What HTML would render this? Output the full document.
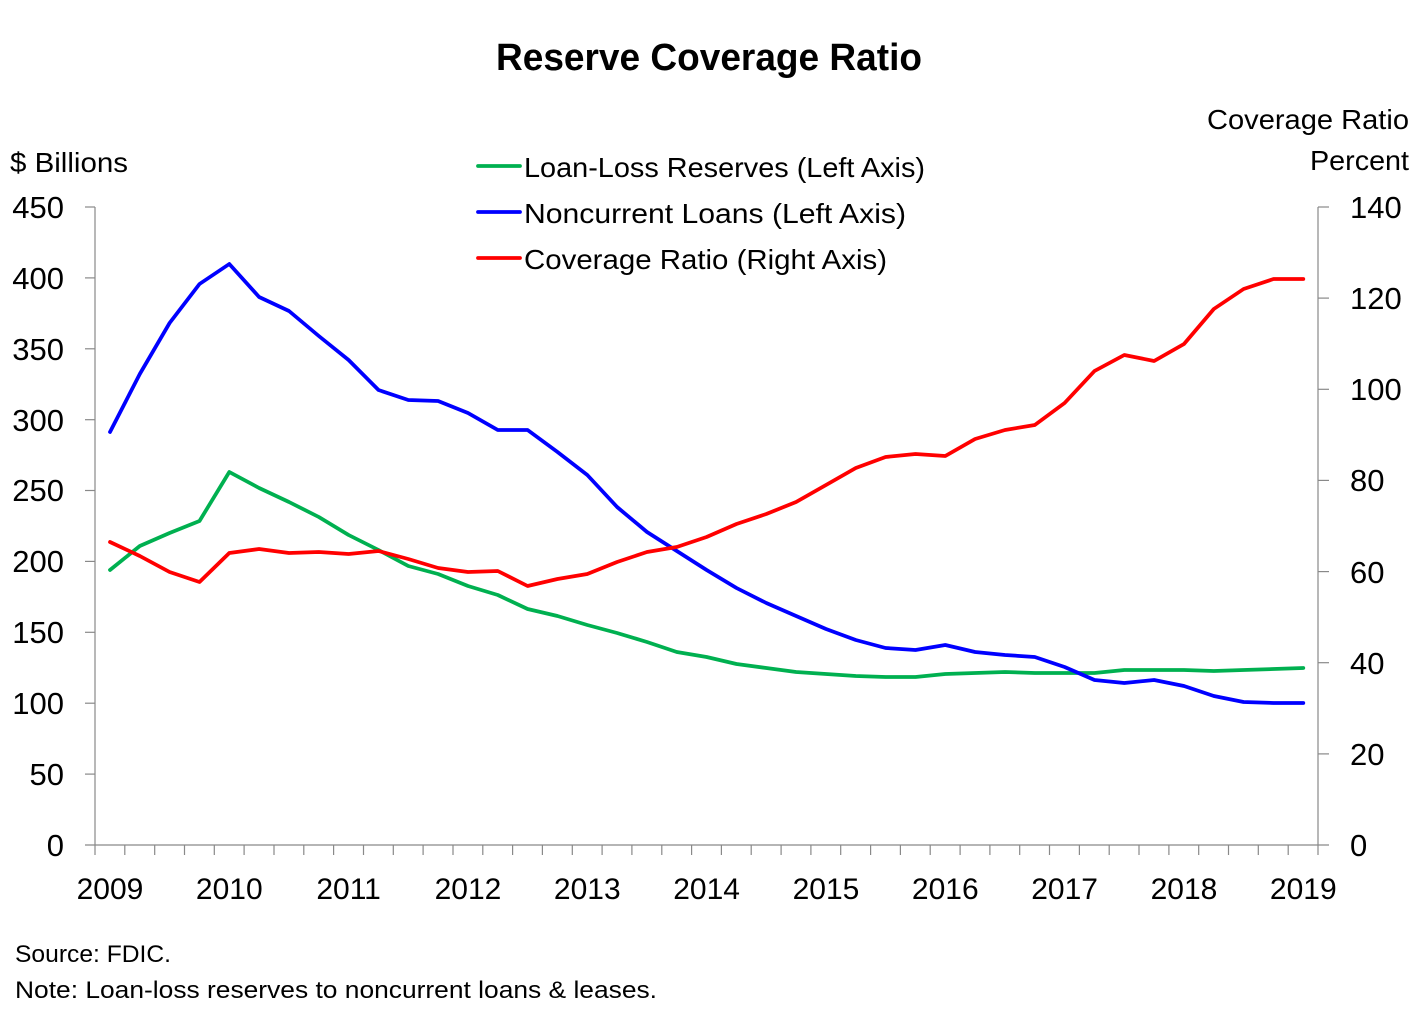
<!DOCTYPE html>
<html>
<head>
<meta charset="utf-8">
<style>
  html, body { margin: 0; padding: 0; background: #ffffff; }
  svg { display: block; }
  text { font-family: "Liberation Sans", "DejaVu Sans", sans-serif; fill: #000; }
</style>
</head>
<body>
<svg width="1420" height="1030" viewBox="0 0 1420 1030" xmlns="http://www.w3.org/2000/svg">
  <rect x="0" y="0" width="1420" height="1030" fill="#ffffff"/>

  <!-- Title -->
  <text x="496" y="70" font-size="38" font-weight="bold" textLength="426" lengthAdjust="spacingAndGlyphs">Reserve Coverage Ratio</text>

  <!-- Axis titles -->
  <text x="10" y="172" font-size="28" textLength="118" lengthAdjust="spacingAndGlyphs">$ Billions</text>
  <text x="1409" y="129" font-size="28" text-anchor="end" textLength="202" lengthAdjust="spacingAndGlyphs">Coverage Ratio</text>
  <text x="1409" y="170" font-size="28" text-anchor="end" textLength="99" lengthAdjust="spacingAndGlyphs">Percent</text>

  <!-- Legend -->
  <line x1="478" y1="166" x2="520" y2="166" stroke="#00B050" stroke-width="3.75" stroke-linecap="round"/>
  <text x="524" y="177" font-size="28" textLength="401" lengthAdjust="spacingAndGlyphs">Loan-Loss Reserves (Left Axis)</text>
  <line x1="478" y1="212" x2="520" y2="212" stroke="#0000FF" stroke-width="3.75" stroke-linecap="round"/>
  <text x="524" y="223" font-size="28" textLength="382" lengthAdjust="spacingAndGlyphs">Noncurrent Loans (Left Axis)</text>
  <line x1="478" y1="258" x2="520" y2="258" stroke="#FF0000" stroke-width="3.75" stroke-linecap="round"/>
  <text x="524" y="269" font-size="28" textLength="363" lengthAdjust="spacingAndGlyphs">Coverage Ratio (Right Axis)</text>

  <!-- Axes -->
  <g stroke="#898989" stroke-width="1.2" fill="none">
    <line x1="95" y1="207" x2="95" y2="845"/>
    <line x1="1318" y1="207" x2="1318" y2="845"/>
    <line x1="85" y1="845" x2="1329" y2="845"/>
    <!-- left ticks -->
    <line x1="85" y1="207" x2="95" y2="207"/>
    <line x1="85" y1="277.9" x2="95" y2="277.9"/>
    <line x1="85" y1="348.8" x2="95" y2="348.8"/>
    <line x1="85" y1="419.7" x2="95" y2="419.7"/>
    <line x1="85" y1="490.5" x2="95" y2="490.5"/>
    <line x1="85" y1="561.4" x2="95" y2="561.4"/>
    <line x1="85" y1="632.3" x2="95" y2="632.3"/>
    <line x1="85" y1="703.2" x2="95" y2="703.2"/>
    <line x1="85" y1="774.1" x2="95" y2="774.1"/>
    <!-- right ticks -->
    <line x1="1318" y1="207" x2="1329" y2="207"/>
    <line x1="1318" y1="298.1" x2="1329" y2="298.1"/>
    <line x1="1318" y1="389.3" x2="1329" y2="389.3"/>
    <line x1="1318" y1="480.4" x2="1329" y2="480.4"/>
    <line x1="1318" y1="571.6" x2="1329" y2="571.6"/>
    <line x1="1318" y1="662.7" x2="1329" y2="662.7"/>
    <line x1="1318" y1="753.9" x2="1329" y2="753.9"/>
    <!-- bottom ticks -->
    <path d="M95,845v10 M124.8,845v10 M154.7,845v10 M184.5,845v10 M214.3,845v10 M244.1,845v10 M274,845v10 M303.8,845v10 M333.6,845v10 M363.5,845v10 M393.3,845v10 M423.1,845v10 M453,845v10 M482.8,845v10 M512.6,845v10 M542.4,845v10 M572.3,845v10 M602.1,845v10 M631.9,845v10 M661.8,845v10 M691.6,845v10 M721.4,845v10 M751.2,845v10 M781.1,845v10 M810.9,845v10 M840.7,845v10 M870.6,845v10 M900.4,845v10 M930.2,845v10 M960.1,845v10 M989.9,845v10 M1019.7,845v10 M1049.5,845v10 M1079.4,845v10 M1109.2,845v10 M1139,845v10 M1168.9,845v10 M1198.7,845v10 M1228.5,845v10 M1258.3,845v10 M1288.2,845v10 M1318,845v10"/>
  </g>

  <!-- Left axis labels -->
  <g font-size="31" text-anchor="end">
    <text x="64" y="218">450</text>
    <text x="64" y="289">400</text>
    <text x="64" y="360">350</text>
    <text x="64" y="431">300</text>
    <text x="64" y="501">250</text>
    <text x="64" y="572">200</text>
    <text x="64" y="643">150</text>
    <text x="64" y="714">100</text>
    <text x="64" y="785">50</text>
    <text x="64" y="856">0</text>
  </g>

  <!-- Right axis labels -->
  <g font-size="31" text-anchor="start">
    <text x="1350" y="218">140</text>
    <text x="1350" y="309">120</text>
    <text x="1350" y="400">100</text>
    <text x="1350" y="491">80</text>
    <text x="1350" y="583">60</text>
    <text x="1350" y="674">40</text>
    <text x="1350" y="765">20</text>
    <text x="1350" y="856">0</text>
  </g>

  <!-- X axis labels -->
  <g font-size="30" text-anchor="middle">
    <text x="110" y="899">2009</text>
    <text x="229.3" y="899">2010</text>
    <text x="348.6" y="899">2011</text>
    <text x="468" y="899">2012</text>
    <text x="587.3" y="899">2013</text>
    <text x="706.6" y="899">2014</text>
    <text x="826" y="899">2015</text>
    <text x="945.3" y="899">2016</text>
    <text x="1064.6" y="899">2017</text>
    <text x="1184" y="899">2018</text>
    <text x="1303.3" y="899">2019</text>
  </g>

  <!-- Series -->
  <g fill="none" stroke-width="3.75" stroke-linejoin="round" stroke-linecap="round">
    <!-- Loan-loss reserves (green) -->
    <polyline stroke="#00B050" points="110,570 139.8,546 169.6,533 199.5,521 229.3,472 259.1,488 289,502 318.8,517 348.6,535 378.5,550 408.3,566 438.1,574 468,586 497.8,595 527.6,609 557.5,616 587.3,625 617.1,633 647,642 676.8,652 706.6,657 736.5,664 766.3,668 796.1,672 826,674 855.8,676 885.6,677 915.5,677 945.3,674 975.1,673 1005,672 1034.8,673 1064.6,673 1094.5,673 1124.3,670 1154.1,670 1184,670 1213.8,671 1243.6,670 1273.5,669 1303.3,668"/>
    <!-- Noncurrent loans (blue) -->
    <polyline stroke="#0000FF" points="110,432 139.8,374 169.6,323 199.5,284 229.3,264 259.1,297 289,311 318.8,336 348.6,360 378.5,390 408.3,400 438.1,401 468,413 497.8,430 527.6,430 557.5,452 587.3,475 617.1,507 647,532 676.8,551 706.6,570 736.5,588 766.3,603 796.1,616 826,629 855.8,640 885.6,648 915.5,650 945.3,645 975.1,652 1005,655 1034.8,657 1064.6,667 1094.5,680 1124.3,683 1154.1,680 1184,686 1213.8,696 1243.6,702 1273.5,703 1303.3,703"/>
    <!-- Coverage ratio (red) -->
    <polyline stroke="#FF0000" points="110,542 139.8,556 169.6,572 199.5,582 229.3,553 259.1,549 289,553 318.8,552 348.6,554 378.5,551 408.3,559 438.1,568 468,572 497.8,571 527.6,586 557.5,579 587.3,574 617.1,562 647,552 676.8,547 706.6,537 736.5,524 766.3,514 796.1,502 826,485 855.8,468 885.6,457 915.5,454 945.3,456 975.1,439 1005,430 1034.8,425 1064.6,403 1094.5,371 1124.3,355 1154.1,361 1184,344 1213.8,309 1243.6,289 1273.5,279 1303.3,279"/>
  </g>

  <!-- Footnotes -->
  <text x="15" y="962" font-size="24" textLength="156" lengthAdjust="spacingAndGlyphs">Source: FDIC.</text>
  <text x="15" y="998" font-size="24" textLength="642" lengthAdjust="spacingAndGlyphs">Note: Loan-loss reserves to noncurrent loans &amp; leases.</text>
</svg>
</body>
</html>
